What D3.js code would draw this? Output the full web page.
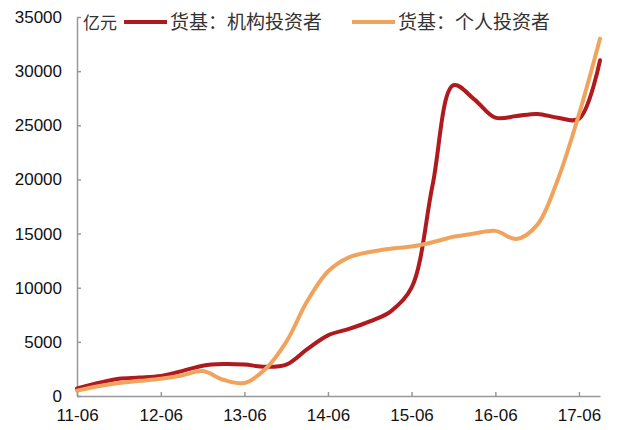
<!DOCTYPE html>
<html>
<head>
<meta charset="utf-8">
<script src="https://cdn.jsdelivr.net/npm/d3@7/dist/d3.min.js"></script>
<style>
  html, body { margin: 0; padding: 0; background: #fff; }
  svg { display: block; }
</style>
</head>
<body>
<svg id="chart" width="640" height="430"></svg>
<script>
// Quarter-end months of the series (YYYY-MM)
const months = [
  "2011-06","2011-09","2011-12","2012-03","2012-06","2012-09","2012-12",
  "2013-03","2013-06","2013-09","2013-12","2014-03","2014-06","2014-09",
  "2014-12","2015-03","2015-06","2015-09","2015-12","2016-03","2016-06",
  "2016-09","2016-12","2017-03","2017-06","2017-09"
];
// 货基：机构投资者 (亿元)
const institutional = [
  700, 1200, 1600, 1700, 1850, 2300, 2800,
  2950, 2900, 2700, 2900, 4300, 5600, 6200,
  6900, 7800, 10000, 19500, 28700, 27400, 25700,
  25850, 26050, 25700, 25600, 31000
];
// 货基：个人投资者 (亿元)
const individual = [
  500, 900, 1200, 1400, 1600, 1900, 2300,
  1500, 1200, 2500, 5000, 8700, 11500, 12800,
  13300, 13600, 13800, 14200, 14700, 15000, 15250,
  14500, 15800, 20000, 26000, 33000
];
const seriesNames = ["货基：机构投资者", "货基：个人投资者"];
const seriesColors = ["#AE1A1E", "#F0A35C"];
const yTicks = [0, 5000, 10000, 15000, 20000, 25000, 30000, 35000];
const xTickLabels = ["2011-06","2012-06","2013-06","2014-06","2015-06","2016-06","2017-06"];
const unitLabel = "亿元";

const parse = d3.timeParse("%Y-%m");
const fmt = d3.timeFormat("%y-%m");
const svg = d3.select("#chart");

const x = d3.scaleTime()
  .domain([parse("2011-06"), parse("2017-09")])
  .range([77, 600]);
const y = d3.scaleLinear()
  .domain([0, 35000])
  .range([396, 17]);

const numFont = "'Liberation Sans', Arial, sans-serif";
const cjkFont = "'Noto Sans CJK SC', 'Noto Sans', sans-serif";

// Axes
const yAxis = d3.axisLeft(y).tickValues(yTicks).tickSize(-4).tickSizeOuter(0).tickPadding(15)
  .tickFormat(d3.format("d"));
const xAxis = d3.axisBottom(x).tickValues(xTickLabels.map(parse)).tickSize(-4).tickSizeOuter(0)
  .tickPadding(13).tickFormat(fmt);

const gy = svg.append("g").attr("transform", "translate(77,0)").call(yAxis);
const gx = svg.append("g").attr("transform", "translate(0,396)").call(xAxis);

[gx, gy].forEach(g => {
  g.select(".domain").attr("stroke", "#999").attr("stroke-width", 1.5);
  g.selectAll(".tick line").attr("stroke", "#999").attr("stroke-width", 1.5);
  g.selectAll(".tick text")
    .attr("fill", "#111")
    .style("font-family", numFont)
    .style("font-size", "17px");
});

// Lines
const line = d3.line()
  .x((d, i) => x(parse(months[i])))
  .y(d => y(d))
  .curve(d3.curveCatmullRom.alpha(0.5));

[institutional, individual].forEach((vals, k) => {
  svg.append("path")
    .datum(vals)
    .attr("fill", "none")
    .attr("stroke", seriesColors[k])
    .attr("stroke-width", 4)
    .attr("stroke-linejoin", "round")
    .attr("stroke-linecap", "round")
    .attr("d", line);
});

// Unit label and legend
svg.append("text")
  .attr("x", 83).attr("y", 29)
  .attr("fill", "#333")
  .style("font-family", cjkFont)
  .style("font-size", "17px")
  .text(unitLabel);

const legendX = [124, 352];
seriesNames.forEach((name, k) => {
  const g = svg.append("g").attr("transform", `translate(${legendX[k]},22)`);
  g.append("line")
    .attr("x1", 0).attr("x2", 43).attr("y1", 0).attr("y2", 0)
    .attr("stroke", seriesColors[k]).attr("stroke-width", 4);
  g.append("text")
    .attr("x", 46).attr("y", 7)
    .attr("fill", "#333")
    .style("font-family", cjkFont)
    .style("font-size", "19px")
    .text(name);
});
</script>
</body>
</html>
